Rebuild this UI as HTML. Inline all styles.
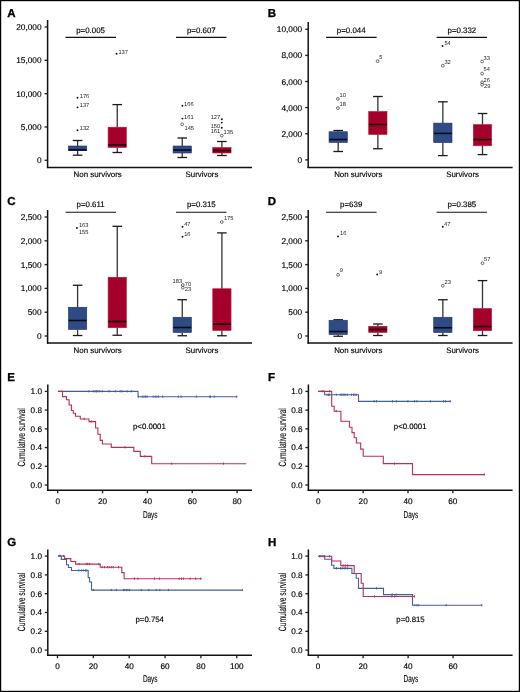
<!DOCTYPE html>
<html><head><meta charset="utf-8"><title>Figure</title>
<style>
html,body{margin:0;padding:0;background:#fff;}
body{width:520px;height:692px;overflow:hidden;}
svg{display:block;font-family:"Liberation Sans", sans-serif;will-change:transform;text-rendering:geometricPrecision;}
</style></head>
<body>
<svg width="520" height="692" viewBox="0 0 520 692">
<rect x="0" y="0" width="520" height="692" fill="#fff"/>
<rect x="0.6" y="0.6" width="518.8" height="690.8" fill="none" stroke="#000" stroke-width="1.2"/>
<text x="7.20" y="17.00" font-size="11.5" text-anchor="start" font-weight="bold" fill="#000" stroke="#000" stroke-width="0.3" >A</text>
<line x1="47.60" y1="20.00" x2="47.60" y2="168.10" stroke="#111" stroke-width="1.5"/>
<line x1="46.90" y1="167.40" x2="252.00" y2="167.40" stroke="#111" stroke-width="1.5"/>
<line x1="44.60" y1="27.00" x2="47.60" y2="27.00" stroke="#222" stroke-width="1.35"/>
<text x="41.60" y="30.00" font-size="8.3" text-anchor="end" font-weight="normal" fill="#000" stroke="#000" stroke-width="0.15" >20,000</text>
<line x1="44.60" y1="60.30" x2="47.60" y2="60.30" stroke="#222" stroke-width="1.35"/>
<text x="41.60" y="63.30" font-size="8.3" text-anchor="end" font-weight="normal" fill="#000" stroke="#000" stroke-width="0.15" >15,000</text>
<line x1="44.60" y1="93.70" x2="47.60" y2="93.70" stroke="#222" stroke-width="1.35"/>
<text x="41.60" y="96.70" font-size="8.3" text-anchor="end" font-weight="normal" fill="#000" stroke="#000" stroke-width="0.15" >10,000</text>
<line x1="44.60" y1="127.00" x2="47.60" y2="127.00" stroke="#222" stroke-width="1.35"/>
<text x="41.60" y="130.00" font-size="8.3" text-anchor="end" font-weight="normal" fill="#000" stroke="#000" stroke-width="0.15" >5,000</text>
<line x1="44.60" y1="160.30" x2="47.60" y2="160.30" stroke="#222" stroke-width="1.35"/>
<text x="41.60" y="163.30" font-size="8.3" text-anchor="end" font-weight="normal" fill="#000" stroke="#000" stroke-width="0.15" >0</text>
<line x1="65.50" y1="37.40" x2="116.00" y2="37.40" stroke="#111" stroke-width="1.1"/>
<text x="90.60" y="32.50" font-size="7.9" text-anchor="middle" font-weight="normal" fill="#000" stroke="#000" stroke-width="0.15" >p=0.005</text>
<line x1="176.00" y1="37.40" x2="226.50" y2="37.40" stroke="#111" stroke-width="1.1"/>
<text x="201.30" y="32.50" font-size="7.9" text-anchor="middle" font-weight="normal" fill="#000" stroke="#000" stroke-width="0.15" >p=0.607</text>
<text x="97.70" y="177.40" font-size="7.9" text-anchor="middle" font-weight="normal" fill="#000" stroke="#000" stroke-width="0.15" >Non survivors</text>
<text x="202.00" y="177.40" font-size="7.9" text-anchor="middle" font-weight="normal" fill="#000" stroke="#000" stroke-width="0.15" >Survivors</text>
<line x1="77.60" y1="140.50" x2="77.60" y2="146.00" stroke="#333" stroke-width="1.3"/>
<line x1="77.60" y1="150.70" x2="77.60" y2="155.20" stroke="#333" stroke-width="1.3"/>
<line x1="72.80" y1="140.50" x2="82.40" y2="140.50" stroke="#1a1a1a" stroke-width="1.3"/>
<line x1="72.80" y1="155.20" x2="82.40" y2="155.20" stroke="#1a1a1a" stroke-width="1.3"/>
<rect x="68.45" y="146.00" width="18.30" height="4.70" fill="#2f4b85" stroke="#1d3468" stroke-width="0.6"/>
<line x1="68.65" y1="149.90" x2="86.55" y2="149.90" stroke="#050a18" stroke-width="1.6"/>
<line x1="117.25" y1="104.60" x2="117.25" y2="127.20" stroke="#333" stroke-width="1.3"/>
<line x1="117.25" y1="147.50" x2="117.25" y2="152.50" stroke="#333" stroke-width="1.3"/>
<line x1="112.45" y1="104.60" x2="122.05" y2="104.60" stroke="#1a1a1a" stroke-width="1.3"/>
<line x1="112.45" y1="152.50" x2="122.05" y2="152.50" stroke="#1a1a1a" stroke-width="1.3"/>
<rect x="108.10" y="127.20" width="18.30" height="20.30" fill="#a3002c" stroke="#b8173c" stroke-width="0.6"/>
<line x1="108.30" y1="144.90" x2="126.20" y2="144.90" stroke="#1a0005" stroke-width="1.6"/>
<line x1="182.25" y1="138.00" x2="182.25" y2="146.00" stroke="#333" stroke-width="1.3"/>
<line x1="182.25" y1="153.00" x2="182.25" y2="157.50" stroke="#333" stroke-width="1.3"/>
<line x1="177.45" y1="138.00" x2="187.05" y2="138.00" stroke="#1a1a1a" stroke-width="1.3"/>
<line x1="177.45" y1="157.50" x2="187.05" y2="157.50" stroke="#1a1a1a" stroke-width="1.3"/>
<rect x="173.10" y="146.00" width="18.30" height="7.00" fill="#2f4b85" stroke="#1d3468" stroke-width="0.6"/>
<line x1="173.30" y1="150.00" x2="191.20" y2="150.00" stroke="#050a18" stroke-width="1.6"/>
<line x1="221.90" y1="141.50" x2="221.90" y2="147.50" stroke="#333" stroke-width="1.3"/>
<line x1="221.90" y1="153.00" x2="221.90" y2="155.50" stroke="#333" stroke-width="1.3"/>
<line x1="217.10" y1="141.50" x2="226.70" y2="141.50" stroke="#1a1a1a" stroke-width="1.3"/>
<line x1="217.10" y1="155.50" x2="226.70" y2="155.50" stroke="#1a1a1a" stroke-width="1.3"/>
<rect x="212.75" y="147.50" width="18.30" height="5.50" fill="#a3002c" stroke="#b8173c" stroke-width="0.6"/>
<line x1="212.95" y1="150.50" x2="230.85" y2="150.50" stroke="#1a0005" stroke-width="1.6"/>
<circle cx="77.50" cy="97.70" r="0.95" fill="#111"/>
<text x="79.80" y="97.70" font-size="5.7" text-anchor="start" font-weight="normal" fill="#1a1a1a" stroke="#1a1a1a" stroke-width="0.0" >176</text>
<circle cx="77.50" cy="107.40" r="0.95" fill="#111"/>
<text x="79.80" y="107.20" font-size="5.7" text-anchor="start" font-weight="normal" fill="#1a1a1a" stroke="#1a1a1a" stroke-width="0.0" >137</text>
<circle cx="77.50" cy="130.20" r="0.95" fill="#111"/>
<text x="79.80" y="129.80" font-size="5.7" text-anchor="start" font-weight="normal" fill="#1a1a1a" stroke="#1a1a1a" stroke-width="0.0" >132</text>
<circle cx="116.60" cy="53.80" r="0.95" fill="#111"/>
<text x="118.40" y="53.50" font-size="5.7" text-anchor="start" font-weight="normal" fill="#1a1a1a" stroke="#1a1a1a" stroke-width="0.0" >137</text>
<circle cx="182.40" cy="105.80" r="0.95" fill="#111"/>
<text x="184.10" y="105.80" font-size="5.7" text-anchor="start" font-weight="normal" fill="#1a1a1a" stroke="#1a1a1a" stroke-width="0.0" >166</text>
<circle cx="182.40" cy="118.60" r="0.95" fill="#111"/>
<text x="184.10" y="118.60" font-size="5.7" text-anchor="start" font-weight="normal" fill="#1a1a1a" stroke="#1a1a1a" stroke-width="0.0" >161</text>
<circle cx="182.20" cy="124.30" r="1.4" fill="none" stroke="#333" stroke-width="0.7"/>
<text x="184.50" y="129.70" font-size="5.7" text-anchor="start" font-weight="normal" fill="#1a1a1a" stroke="#1a1a1a" stroke-width="0.0" >145</text>
<circle cx="221.80" cy="119.20" r="0.95" fill="#111"/>
<text x="220.20" y="119.00" font-size="5.7" text-anchor="end" font-weight="normal" fill="#1a1a1a" stroke="#1a1a1a" stroke-width="0.0" >127</text>
<circle cx="221.80" cy="122.60" r="0.95" fill="#111"/>
<circle cx="221.80" cy="127.70" r="0.95" fill="#111"/>
<text x="220.20" y="128.00" font-size="5.7" text-anchor="end" font-weight="normal" fill="#1a1a1a" stroke="#1a1a1a" stroke-width="0.0" >150</text>
<text x="220.20" y="132.70" font-size="5.7" text-anchor="end" font-weight="normal" fill="#1a1a1a" stroke="#1a1a1a" stroke-width="0.0" >161</text>
<circle cx="221.80" cy="135.60" r="1.4" fill="none" stroke="#333" stroke-width="0.7"/>
<text x="223.60" y="134.00" font-size="5.7" text-anchor="start" font-weight="normal" fill="#1a1a1a" stroke="#1a1a1a" stroke-width="0.0" >135</text>
<text x="267.80" y="17.00" font-size="11.5" text-anchor="start" font-weight="bold" fill="#000" stroke="#000" stroke-width="0.3" >B</text>
<line x1="308.20" y1="22.00" x2="308.20" y2="168.10" stroke="#111" stroke-width="1.5"/>
<line x1="307.50" y1="167.40" x2="512.60" y2="167.40" stroke="#111" stroke-width="1.5"/>
<line x1="305.20" y1="29.25" x2="308.20" y2="29.25" stroke="#222" stroke-width="1.35"/>
<text x="302.20" y="32.25" font-size="8.3" text-anchor="end" font-weight="normal" fill="#000" stroke="#000" stroke-width="0.15" >10,000</text>
<line x1="305.20" y1="55.40" x2="308.20" y2="55.40" stroke="#222" stroke-width="1.35"/>
<text x="302.20" y="58.40" font-size="8.3" text-anchor="end" font-weight="normal" fill="#000" stroke="#000" stroke-width="0.15" >8,000</text>
<line x1="305.20" y1="81.50" x2="308.20" y2="81.50" stroke="#222" stroke-width="1.35"/>
<text x="302.20" y="84.50" font-size="8.3" text-anchor="end" font-weight="normal" fill="#000" stroke="#000" stroke-width="0.15" >6,000</text>
<line x1="305.20" y1="107.60" x2="308.20" y2="107.60" stroke="#222" stroke-width="1.35"/>
<text x="302.20" y="110.60" font-size="8.3" text-anchor="end" font-weight="normal" fill="#000" stroke="#000" stroke-width="0.15" >4,000</text>
<line x1="305.20" y1="133.75" x2="308.20" y2="133.75" stroke="#222" stroke-width="1.35"/>
<text x="302.20" y="136.75" font-size="8.3" text-anchor="end" font-weight="normal" fill="#000" stroke="#000" stroke-width="0.15" >2,000</text>
<line x1="305.20" y1="159.90" x2="308.20" y2="159.90" stroke="#222" stroke-width="1.35"/>
<text x="302.20" y="162.90" font-size="8.3" text-anchor="end" font-weight="normal" fill="#000" stroke="#000" stroke-width="0.15" >0</text>
<line x1="326.10" y1="37.40" x2="376.60" y2="37.40" stroke="#111" stroke-width="1.1"/>
<text x="351.20" y="32.50" font-size="7.9" text-anchor="middle" font-weight="normal" fill="#000" stroke="#000" stroke-width="0.15" >p=0.044</text>
<line x1="436.60" y1="37.40" x2="487.10" y2="37.40" stroke="#111" stroke-width="1.1"/>
<text x="461.90" y="32.50" font-size="7.9" text-anchor="middle" font-weight="normal" fill="#000" stroke="#000" stroke-width="0.15" >p=0.332</text>
<text x="358.30" y="177.40" font-size="7.9" text-anchor="middle" font-weight="normal" fill="#000" stroke="#000" stroke-width="0.15" >Non survivors</text>
<text x="462.60" y="177.40" font-size="7.9" text-anchor="middle" font-weight="normal" fill="#000" stroke="#000" stroke-width="0.15" >Survivors</text>
<line x1="338.20" y1="130.50" x2="338.20" y2="131.75" stroke="#333" stroke-width="1.3"/>
<line x1="338.20" y1="142.50" x2="338.20" y2="151.50" stroke="#333" stroke-width="1.3"/>
<line x1="333.40" y1="130.50" x2="343.00" y2="130.50" stroke="#1a1a1a" stroke-width="1.3"/>
<line x1="333.40" y1="151.50" x2="343.00" y2="151.50" stroke="#1a1a1a" stroke-width="1.3"/>
<rect x="329.05" y="131.75" width="18.30" height="10.75" fill="#2f4b85" stroke="#1d3468" stroke-width="0.6"/>
<line x1="329.25" y1="139.50" x2="347.15" y2="139.50" stroke="#050a18" stroke-width="1.6"/>
<line x1="377.85" y1="96.50" x2="377.85" y2="111.50" stroke="#333" stroke-width="1.3"/>
<line x1="377.85" y1="134.50" x2="377.85" y2="148.75" stroke="#333" stroke-width="1.3"/>
<line x1="373.05" y1="96.50" x2="382.65" y2="96.50" stroke="#1a1a1a" stroke-width="1.3"/>
<line x1="373.05" y1="148.75" x2="382.65" y2="148.75" stroke="#1a1a1a" stroke-width="1.3"/>
<rect x="368.70" y="111.50" width="18.30" height="23.00" fill="#a3002c" stroke="#b8173c" stroke-width="0.6"/>
<line x1="368.90" y1="124.50" x2="386.80" y2="124.50" stroke="#1a0005" stroke-width="1.6"/>
<line x1="442.85" y1="101.80" x2="442.85" y2="123.10" stroke="#333" stroke-width="1.3"/>
<line x1="442.85" y1="142.60" x2="442.85" y2="155.60" stroke="#333" stroke-width="1.3"/>
<line x1="438.05" y1="101.80" x2="447.65" y2="101.80" stroke="#1a1a1a" stroke-width="1.3"/>
<line x1="438.05" y1="155.60" x2="447.65" y2="155.60" stroke="#1a1a1a" stroke-width="1.3"/>
<rect x="433.70" y="123.10" width="18.30" height="19.50" fill="#2f4b85" stroke="#1d3468" stroke-width="0.6"/>
<line x1="433.90" y1="133.40" x2="451.80" y2="133.40" stroke="#050a18" stroke-width="1.6"/>
<line x1="482.50" y1="113.50" x2="482.50" y2="124.60" stroke="#333" stroke-width="1.3"/>
<line x1="482.50" y1="145.80" x2="482.50" y2="154.60" stroke="#333" stroke-width="1.3"/>
<line x1="477.70" y1="113.50" x2="487.30" y2="113.50" stroke="#1a1a1a" stroke-width="1.3"/>
<line x1="477.70" y1="154.60" x2="487.30" y2="154.60" stroke="#1a1a1a" stroke-width="1.3"/>
<rect x="473.35" y="124.60" width="18.30" height="21.20" fill="#a3002c" stroke="#b8173c" stroke-width="0.6"/>
<line x1="473.55" y1="139.60" x2="491.45" y2="139.60" stroke="#1a0005" stroke-width="1.6"/>
<circle cx="377.60" cy="61.20" r="1.4" fill="none" stroke="#333" stroke-width="0.7"/>
<text x="379.20" y="59.00" font-size="5.7" text-anchor="start" font-weight="normal" fill="#1a1a1a" stroke="#1a1a1a" stroke-width="0.0" >5</text>
<circle cx="337.90" cy="98.90" r="1.4" fill="none" stroke="#333" stroke-width="0.7"/>
<text x="339.50" y="96.90" font-size="5.7" text-anchor="start" font-weight="normal" fill="#1a1a1a" stroke="#1a1a1a" stroke-width="0.0" >10</text>
<circle cx="337.90" cy="108.10" r="1.4" fill="none" stroke="#333" stroke-width="0.7"/>
<text x="339.50" y="106.10" font-size="5.7" text-anchor="start" font-weight="normal" fill="#1a1a1a" stroke="#1a1a1a" stroke-width="0.0" >18</text>
<circle cx="442.50" cy="46.00" r="0.95" fill="#111"/>
<text x="444.40" y="44.80" font-size="5.7" text-anchor="start" font-weight="normal" fill="#1a1a1a" stroke="#1a1a1a" stroke-width="0.0" >54</text>
<circle cx="442.80" cy="65.70" r="1.4" fill="none" stroke="#333" stroke-width="0.7"/>
<text x="444.40" y="63.70" font-size="5.7" text-anchor="start" font-weight="normal" fill="#1a1a1a" stroke="#1a1a1a" stroke-width="0.0" >32</text>
<circle cx="482.10" cy="61.50" r="1.4" fill="none" stroke="#333" stroke-width="0.7"/>
<text x="483.60" y="59.50" font-size="5.7" text-anchor="start" font-weight="normal" fill="#1a1a1a" stroke="#1a1a1a" stroke-width="0.0" >33</text>
<circle cx="482.10" cy="73.60" r="1.4" fill="none" stroke="#333" stroke-width="0.7"/>
<text x="483.60" y="71.30" font-size="5.7" text-anchor="start" font-weight="normal" fill="#1a1a1a" stroke="#1a1a1a" stroke-width="0.0" >54</text>
<circle cx="482.10" cy="82.30" r="1.4" fill="none" stroke="#333" stroke-width="0.7"/>
<text x="483.60" y="81.80" font-size="5.7" text-anchor="start" font-weight="normal" fill="#1a1a1a" stroke="#1a1a1a" stroke-width="0.0" >26</text>
<circle cx="482.10" cy="84.60" r="1.4" fill="none" stroke="#333" stroke-width="0.7"/>
<text x="484.00" y="87.50" font-size="5.7" text-anchor="start" font-weight="normal" fill="#1a1a1a" stroke="#1a1a1a" stroke-width="0.0" >29</text>
<text x="7.20" y="205.00" font-size="11.5" text-anchor="start" font-weight="bold" fill="#000" stroke="#000" stroke-width="0.3" >C</text>
<line x1="47.60" y1="210.00" x2="47.60" y2="343.70" stroke="#111" stroke-width="1.5"/>
<line x1="46.90" y1="343.00" x2="252.00" y2="343.00" stroke="#111" stroke-width="1.5"/>
<line x1="44.60" y1="217.00" x2="47.60" y2="217.00" stroke="#222" stroke-width="1.35"/>
<text x="41.60" y="220.00" font-size="8.3" text-anchor="end" font-weight="normal" fill="#000" stroke="#000" stroke-width="0.15" >2,500</text>
<line x1="44.60" y1="240.80" x2="47.60" y2="240.80" stroke="#222" stroke-width="1.35"/>
<text x="41.60" y="243.80" font-size="8.3" text-anchor="end" font-weight="normal" fill="#000" stroke="#000" stroke-width="0.15" >2,000</text>
<line x1="44.60" y1="264.60" x2="47.60" y2="264.60" stroke="#222" stroke-width="1.35"/>
<text x="41.60" y="267.60" font-size="8.3" text-anchor="end" font-weight="normal" fill="#000" stroke="#000" stroke-width="0.15" >1,500</text>
<line x1="44.60" y1="288.40" x2="47.60" y2="288.40" stroke="#222" stroke-width="1.35"/>
<text x="41.60" y="291.40" font-size="8.3" text-anchor="end" font-weight="normal" fill="#000" stroke="#000" stroke-width="0.15" >1,000</text>
<line x1="44.60" y1="312.20" x2="47.60" y2="312.20" stroke="#222" stroke-width="1.35"/>
<text x="41.60" y="315.20" font-size="8.3" text-anchor="end" font-weight="normal" fill="#000" stroke="#000" stroke-width="0.15" >500</text>
<line x1="44.60" y1="336.00" x2="47.60" y2="336.00" stroke="#222" stroke-width="1.35"/>
<text x="41.60" y="339.00" font-size="8.3" text-anchor="end" font-weight="normal" fill="#000" stroke="#000" stroke-width="0.15" >0</text>
<line x1="65.50" y1="212.20" x2="116.00" y2="212.20" stroke="#111" stroke-width="1.1"/>
<text x="90.60" y="206.80" font-size="7.9" text-anchor="middle" font-weight="normal" fill="#000" stroke="#000" stroke-width="0.15" >p=0.611</text>
<line x1="176.00" y1="212.20" x2="226.50" y2="212.20" stroke="#111" stroke-width="1.1"/>
<text x="201.30" y="206.80" font-size="7.9" text-anchor="middle" font-weight="normal" fill="#000" stroke="#000" stroke-width="0.15" >p=0.315</text>
<text x="97.70" y="353.30" font-size="7.9" text-anchor="middle" font-weight="normal" fill="#000" stroke="#000" stroke-width="0.15" >Non survivors</text>
<text x="202.00" y="353.30" font-size="7.9" text-anchor="middle" font-weight="normal" fill="#000" stroke="#000" stroke-width="0.15" >Survivors</text>
<line x1="77.60" y1="285.25" x2="77.60" y2="307.25" stroke="#333" stroke-width="1.3"/>
<line x1="77.60" y1="329.50" x2="77.60" y2="335.50" stroke="#333" stroke-width="1.3"/>
<line x1="72.80" y1="285.25" x2="82.40" y2="285.25" stroke="#1a1a1a" stroke-width="1.3"/>
<line x1="72.80" y1="335.50" x2="82.40" y2="335.50" stroke="#1a1a1a" stroke-width="1.3"/>
<rect x="68.45" y="307.25" width="18.30" height="22.25" fill="#2f4b85" stroke="#1d3468" stroke-width="0.6"/>
<line x1="68.65" y1="320.50" x2="86.55" y2="320.50" stroke="#050a18" stroke-width="1.6"/>
<line x1="117.25" y1="226.30" x2="117.25" y2="277.25" stroke="#333" stroke-width="1.3"/>
<line x1="117.25" y1="327.75" x2="117.25" y2="335.25" stroke="#333" stroke-width="1.3"/>
<line x1="112.45" y1="226.30" x2="122.05" y2="226.30" stroke="#1a1a1a" stroke-width="1.3"/>
<line x1="112.45" y1="335.25" x2="122.05" y2="335.25" stroke="#1a1a1a" stroke-width="1.3"/>
<rect x="108.10" y="277.25" width="18.30" height="50.50" fill="#a3002c" stroke="#b8173c" stroke-width="0.6"/>
<line x1="108.30" y1="321.50" x2="126.20" y2="321.50" stroke="#1a0005" stroke-width="1.6"/>
<line x1="182.25" y1="299.75" x2="182.25" y2="317.25" stroke="#333" stroke-width="1.3"/>
<line x1="182.25" y1="332.50" x2="182.25" y2="335.75" stroke="#333" stroke-width="1.3"/>
<line x1="177.45" y1="299.75" x2="187.05" y2="299.75" stroke="#1a1a1a" stroke-width="1.3"/>
<line x1="177.45" y1="335.75" x2="187.05" y2="335.75" stroke="#1a1a1a" stroke-width="1.3"/>
<rect x="173.10" y="317.25" width="18.30" height="15.25" fill="#2f4b85" stroke="#1d3468" stroke-width="0.6"/>
<line x1="173.30" y1="327.50" x2="191.20" y2="327.50" stroke="#050a18" stroke-width="1.6"/>
<line x1="221.90" y1="232.90" x2="221.90" y2="288.75" stroke="#333" stroke-width="1.3"/>
<line x1="221.90" y1="330.50" x2="221.90" y2="335.75" stroke="#333" stroke-width="1.3"/>
<line x1="217.10" y1="232.90" x2="226.70" y2="232.90" stroke="#1a1a1a" stroke-width="1.3"/>
<line x1="217.10" y1="335.75" x2="226.70" y2="335.75" stroke="#1a1a1a" stroke-width="1.3"/>
<rect x="212.75" y="288.75" width="18.30" height="41.75" fill="#a3002c" stroke="#b8173c" stroke-width="0.6"/>
<line x1="212.95" y1="324.25" x2="230.85" y2="324.25" stroke="#1a0005" stroke-width="1.6"/>
<circle cx="76.90" cy="228.00" r="0.95" fill="#111"/>
<text x="78.90" y="226.80" font-size="5.7" text-anchor="start" font-weight="normal" fill="#1a1a1a" stroke="#1a1a1a" stroke-width="0.0" >163</text>
<text x="78.90" y="234.00" font-size="5.7" text-anchor="start" font-weight="normal" fill="#1a1a1a" stroke="#1a1a1a" stroke-width="0.0" >155</text>
<circle cx="182.50" cy="226.70" r="0.95" fill="#111"/>
<text x="184.20" y="225.80" font-size="5.7" text-anchor="start" font-weight="normal" fill="#1a1a1a" stroke="#1a1a1a" stroke-width="0.0" >47</text>
<circle cx="182.50" cy="236.80" r="0.95" fill="#111"/>
<text x="184.20" y="235.60" font-size="5.7" text-anchor="start" font-weight="normal" fill="#1a1a1a" stroke="#1a1a1a" stroke-width="0.0" >16</text>
<circle cx="221.80" cy="222.00" r="1.4" fill="none" stroke="#333" stroke-width="0.7"/>
<text x="223.90" y="219.70" font-size="5.7" text-anchor="start" font-weight="normal" fill="#1a1a1a" stroke="#1a1a1a" stroke-width="0.0" >175</text>
<circle cx="182.80" cy="285.00" r="1.4" fill="none" stroke="#333" stroke-width="0.7"/>
<text x="182.10" y="282.70" font-size="5.7" text-anchor="end" font-weight="normal" fill="#1a1a1a" stroke="#1a1a1a" stroke-width="0.0" >183</text>
<text x="184.80" y="285.70" font-size="5.7" text-anchor="start" font-weight="normal" fill="#1a1a1a" stroke="#1a1a1a" stroke-width="0.0" >70</text>
<circle cx="182.80" cy="287.70" r="1.4" fill="none" stroke="#333" stroke-width="0.7"/>
<text x="184.80" y="291.40" font-size="5.7" text-anchor="start" font-weight="normal" fill="#1a1a1a" stroke="#1a1a1a" stroke-width="0.0" >23</text>
<text x="267.80" y="205.00" font-size="11.5" text-anchor="start" font-weight="bold" fill="#000" stroke="#000" stroke-width="0.3" >D</text>
<line x1="308.20" y1="210.00" x2="308.20" y2="343.70" stroke="#111" stroke-width="1.5"/>
<line x1="307.50" y1="343.00" x2="512.60" y2="343.00" stroke="#111" stroke-width="1.5"/>
<line x1="305.20" y1="217.00" x2="308.20" y2="217.00" stroke="#222" stroke-width="1.35"/>
<text x="302.20" y="220.00" font-size="8.3" text-anchor="end" font-weight="normal" fill="#000" stroke="#000" stroke-width="0.15" >2,500</text>
<line x1="305.20" y1="240.80" x2="308.20" y2="240.80" stroke="#222" stroke-width="1.35"/>
<text x="302.20" y="243.80" font-size="8.3" text-anchor="end" font-weight="normal" fill="#000" stroke="#000" stroke-width="0.15" >2,000</text>
<line x1="305.20" y1="264.60" x2="308.20" y2="264.60" stroke="#222" stroke-width="1.35"/>
<text x="302.20" y="267.60" font-size="8.3" text-anchor="end" font-weight="normal" fill="#000" stroke="#000" stroke-width="0.15" >1,500</text>
<line x1="305.20" y1="288.40" x2="308.20" y2="288.40" stroke="#222" stroke-width="1.35"/>
<text x="302.20" y="291.40" font-size="8.3" text-anchor="end" font-weight="normal" fill="#000" stroke="#000" stroke-width="0.15" >1,000</text>
<line x1="305.20" y1="312.20" x2="308.20" y2="312.20" stroke="#222" stroke-width="1.35"/>
<text x="302.20" y="315.20" font-size="8.3" text-anchor="end" font-weight="normal" fill="#000" stroke="#000" stroke-width="0.15" >500</text>
<line x1="305.20" y1="336.00" x2="308.20" y2="336.00" stroke="#222" stroke-width="1.35"/>
<text x="302.20" y="339.00" font-size="8.3" text-anchor="end" font-weight="normal" fill="#000" stroke="#000" stroke-width="0.15" >0</text>
<line x1="326.10" y1="212.20" x2="376.60" y2="212.20" stroke="#111" stroke-width="1.1"/>
<text x="351.20" y="206.80" font-size="7.9" text-anchor="middle" font-weight="normal" fill="#000" stroke="#000" stroke-width="0.15" >p=639</text>
<line x1="436.60" y1="212.20" x2="487.10" y2="212.20" stroke="#111" stroke-width="1.1"/>
<text x="461.90" y="206.80" font-size="7.9" text-anchor="middle" font-weight="normal" fill="#000" stroke="#000" stroke-width="0.15" >p=0.385</text>
<text x="358.30" y="353.30" font-size="7.9" text-anchor="middle" font-weight="normal" fill="#000" stroke="#000" stroke-width="0.15" >Non survivors</text>
<text x="462.60" y="353.30" font-size="7.9" text-anchor="middle" font-weight="normal" fill="#000" stroke="#000" stroke-width="0.15" >Survivors</text>
<line x1="338.20" y1="319.75" x2="338.20" y2="320.25" stroke="#333" stroke-width="1.3"/>
<line x1="338.20" y1="334.50" x2="338.20" y2="336.25" stroke="#333" stroke-width="1.3"/>
<line x1="333.40" y1="319.75" x2="343.00" y2="319.75" stroke="#1a1a1a" stroke-width="1.3"/>
<line x1="333.40" y1="336.25" x2="343.00" y2="336.25" stroke="#1a1a1a" stroke-width="1.3"/>
<rect x="329.05" y="320.25" width="18.30" height="14.25" fill="#2f4b85" stroke="#1d3468" stroke-width="0.6"/>
<line x1="329.25" y1="331.50" x2="347.15" y2="331.50" stroke="#050a18" stroke-width="1.6"/>
<line x1="377.85" y1="324.00" x2="377.85" y2="326.25" stroke="#333" stroke-width="1.3"/>
<line x1="377.85" y1="332.50" x2="377.85" y2="335.50" stroke="#333" stroke-width="1.3"/>
<line x1="373.05" y1="324.00" x2="382.65" y2="324.00" stroke="#1a1a1a" stroke-width="1.3"/>
<line x1="373.05" y1="335.50" x2="382.65" y2="335.50" stroke="#1a1a1a" stroke-width="1.3"/>
<rect x="368.70" y="326.25" width="18.30" height="6.25" fill="#a3002c" stroke="#b8173c" stroke-width="0.6"/>
<line x1="368.90" y1="329.50" x2="386.80" y2="329.50" stroke="#1a0005" stroke-width="1.6"/>
<line x1="442.85" y1="299.75" x2="442.85" y2="317.25" stroke="#333" stroke-width="1.3"/>
<line x1="442.85" y1="332.50" x2="442.85" y2="335.50" stroke="#333" stroke-width="1.3"/>
<line x1="438.05" y1="299.75" x2="447.65" y2="299.75" stroke="#1a1a1a" stroke-width="1.3"/>
<line x1="438.05" y1="335.50" x2="447.65" y2="335.50" stroke="#1a1a1a" stroke-width="1.3"/>
<rect x="433.70" y="317.25" width="18.30" height="15.25" fill="#2f4b85" stroke="#1d3468" stroke-width="0.6"/>
<line x1="433.90" y1="327.75" x2="451.80" y2="327.75" stroke="#050a18" stroke-width="1.6"/>
<line x1="482.50" y1="280.60" x2="482.50" y2="308.50" stroke="#333" stroke-width="1.3"/>
<line x1="482.50" y1="330.75" x2="482.50" y2="335.50" stroke="#333" stroke-width="1.3"/>
<line x1="477.70" y1="280.60" x2="487.30" y2="280.60" stroke="#1a1a1a" stroke-width="1.3"/>
<line x1="477.70" y1="335.50" x2="487.30" y2="335.50" stroke="#1a1a1a" stroke-width="1.3"/>
<rect x="473.35" y="308.50" width="18.30" height="22.25" fill="#a3002c" stroke="#b8173c" stroke-width="0.6"/>
<line x1="473.55" y1="326.50" x2="491.45" y2="326.50" stroke="#1a0005" stroke-width="1.6"/>
<circle cx="338.10" cy="236.40" r="0.95" fill="#111"/>
<text x="340.10" y="235.10" font-size="5.7" text-anchor="start" font-weight="normal" fill="#1a1a1a" stroke="#1a1a1a" stroke-width="0.0" >16</text>
<circle cx="338.10" cy="274.80" r="1.4" fill="none" stroke="#333" stroke-width="0.7"/>
<text x="339.80" y="272.40" font-size="5.7" text-anchor="start" font-weight="normal" fill="#1a1a1a" stroke="#1a1a1a" stroke-width="0.0" >9</text>
<circle cx="377.20" cy="274.50" r="0.95" fill="#111"/>
<text x="379.10" y="274.10" font-size="5.7" text-anchor="start" font-weight="normal" fill="#1a1a1a" stroke="#1a1a1a" stroke-width="0.0" >9</text>
<circle cx="442.80" cy="226.80" r="0.95" fill="#111"/>
<text x="444.10" y="225.80" font-size="5.7" text-anchor="start" font-weight="normal" fill="#1a1a1a" stroke="#1a1a1a" stroke-width="0.0" >47</text>
<circle cx="442.80" cy="285.70" r="1.4" fill="none" stroke="#333" stroke-width="0.7"/>
<text x="444.50" y="283.60" font-size="5.7" text-anchor="start" font-weight="normal" fill="#1a1a1a" stroke="#1a1a1a" stroke-width="0.0" >23</text>
<circle cx="482.50" cy="263.20" r="1.4" fill="none" stroke="#333" stroke-width="0.7"/>
<text x="484.10" y="261.20" font-size="5.7" text-anchor="start" font-weight="normal" fill="#1a1a1a" stroke="#1a1a1a" stroke-width="0.0" >57</text>
<text x="7.30" y="380.90" font-size="11.5" text-anchor="start" font-weight="bold" fill="#000" stroke="#000" stroke-width="0.3" >E</text>
<line x1="47.80" y1="384.50" x2="47.80" y2="491.00" stroke="#111" stroke-width="1.5"/>
<line x1="47.10" y1="490.30" x2="252.00" y2="490.30" stroke="#111" stroke-width="1.5"/>
<line x1="44.80" y1="391.40" x2="47.80" y2="391.40" stroke="#222" stroke-width="1.35"/>
<text x="42.00" y="394.30" font-size="8.2" text-anchor="end" font-weight="normal" fill="#000" stroke="#000" stroke-width="0.15" >1.0</text>
<line x1="44.80" y1="410.12" x2="47.80" y2="410.12" stroke="#222" stroke-width="1.35"/>
<text x="42.00" y="413.02" font-size="8.2" text-anchor="end" font-weight="normal" fill="#000" stroke="#000" stroke-width="0.15" >0.8</text>
<line x1="44.80" y1="428.84" x2="47.80" y2="428.84" stroke="#222" stroke-width="1.35"/>
<text x="42.00" y="431.74" font-size="8.2" text-anchor="end" font-weight="normal" fill="#000" stroke="#000" stroke-width="0.15" >0.6</text>
<line x1="44.80" y1="447.56" x2="47.80" y2="447.56" stroke="#222" stroke-width="1.35"/>
<text x="42.00" y="450.46" font-size="8.2" text-anchor="end" font-weight="normal" fill="#000" stroke="#000" stroke-width="0.15" >0.4</text>
<line x1="44.80" y1="466.28" x2="47.80" y2="466.28" stroke="#222" stroke-width="1.35"/>
<text x="42.00" y="469.18" font-size="8.2" text-anchor="end" font-weight="normal" fill="#000" stroke="#000" stroke-width="0.15" >0.2</text>
<line x1="44.80" y1="485.00" x2="47.80" y2="485.00" stroke="#222" stroke-width="1.35"/>
<text x="42.00" y="487.90" font-size="8.2" text-anchor="end" font-weight="normal" fill="#000" stroke="#000" stroke-width="0.15" >0.0</text>
<line x1="57.70" y1="490.30" x2="57.70" y2="493.30" stroke="#222" stroke-width="1.35"/>
<text x="57.70" y="503.80" font-size="8.2" text-anchor="middle" font-weight="normal" fill="#000" stroke="#000" stroke-width="0.15" >0</text>
<line x1="102.55" y1="490.30" x2="102.55" y2="493.30" stroke="#222" stroke-width="1.35"/>
<text x="102.55" y="503.80" font-size="8.2" text-anchor="middle" font-weight="normal" fill="#000" stroke="#000" stroke-width="0.15" >20</text>
<line x1="147.40" y1="490.30" x2="147.40" y2="493.30" stroke="#222" stroke-width="1.35"/>
<text x="147.40" y="503.80" font-size="8.2" text-anchor="middle" font-weight="normal" fill="#000" stroke="#000" stroke-width="0.15" >40</text>
<line x1="192.25" y1="490.30" x2="192.25" y2="493.30" stroke="#222" stroke-width="1.35"/>
<text x="192.25" y="503.80" font-size="8.2" text-anchor="middle" font-weight="normal" fill="#000" stroke="#000" stroke-width="0.15" >60</text>
<line x1="237.10" y1="490.30" x2="237.10" y2="493.30" stroke="#222" stroke-width="1.35"/>
<text x="237.10" y="503.80" font-size="8.2" text-anchor="middle" font-weight="normal" fill="#000" stroke="#000" stroke-width="0.15" >80</text>
<text transform="translate(150.20,517.50) scale(0.064,0.1)" font-size="100" text-anchor="middle" fill="#000" stroke="#000" stroke-width="1.2">Days</text>
<text transform="translate(25.00,437.40) rotate(-90) scale(0.0672,0.105)" font-size="100" text-anchor="middle" fill="#000" stroke="#000" stroke-width="1.0">Cumulative survival</text>
<text x="133.00" y="428.80" font-size="7.8" text-anchor="start" font-weight="normal" fill="#000" stroke="#000" stroke-width="0.15" >p&lt;0.0001</text>
<path d="M57.90,391.30 L138.00,391.30 L138.00,396.60 L237.20,396.60" fill="none" stroke="#41609a" stroke-width="1.1" transform="translate(0,0.1)"/>
<rect x="88.50" y="390.20" width="1.0" height="2.2" fill="#41609a"/>
<rect x="92.80" y="390.20" width="1.0" height="2.2" fill="#41609a"/>
<rect x="94.70" y="390.20" width="1.0" height="2.2" fill="#41609a"/>
<rect x="96.00" y="390.20" width="1.0" height="2.2" fill="#41609a"/>
<rect x="97.40" y="390.20" width="1.0" height="2.2" fill="#41609a"/>
<rect x="99.30" y="390.20" width="1.0" height="2.2" fill="#41609a"/>
<rect x="101.80" y="390.20" width="1.0" height="2.2" fill="#41609a"/>
<rect x="108.70" y="390.20" width="1.0" height="2.2" fill="#41609a"/>
<rect x="115.10" y="390.20" width="1.0" height="2.2" fill="#41609a"/>
<rect x="119.70" y="390.20" width="1.0" height="2.2" fill="#41609a"/>
<rect x="121.60" y="390.20" width="1.0" height="2.2" fill="#41609a"/>
<rect x="126.60" y="390.20" width="1.0" height="2.2" fill="#41609a"/>
<rect x="130.90" y="390.20" width="1.0" height="2.2" fill="#41609a"/>
<rect x="138.00" y="395.50" width="1.0" height="2.2" fill="#41609a"/>
<rect x="141.70" y="395.50" width="1.0" height="2.2" fill="#41609a"/>
<rect x="143.50" y="395.50" width="1.0" height="2.2" fill="#41609a"/>
<rect x="145.10" y="395.50" width="1.0" height="2.2" fill="#41609a"/>
<rect x="146.60" y="395.50" width="1.0" height="2.2" fill="#41609a"/>
<rect x="152.70" y="395.50" width="1.0" height="2.2" fill="#41609a"/>
<rect x="154.70" y="395.50" width="1.0" height="2.2" fill="#41609a"/>
<rect x="156.40" y="395.50" width="1.0" height="2.2" fill="#41609a"/>
<rect x="158.10" y="395.50" width="1.0" height="2.2" fill="#41609a"/>
<rect x="162.20" y="395.50" width="1.0" height="2.2" fill="#41609a"/>
<rect x="177.80" y="395.50" width="1.0" height="2.2" fill="#41609a"/>
<rect x="180.60" y="395.50" width="1.0" height="2.2" fill="#41609a"/>
<rect x="195.80" y="395.50" width="1.0" height="2.2" fill="#41609a"/>
<rect x="209.10" y="395.50" width="1.0" height="2.2" fill="#41609a"/>
<rect x="210.00" y="395.50" width="1.0" height="2.2" fill="#41609a"/>
<rect x="213.70" y="395.50" width="1.0" height="2.2" fill="#41609a"/>
<rect x="236.20" y="395.50" width="1.0" height="2.2" fill="#41609a"/>
<path d="M57.90,391.30 L62.50,391.30 L62.50,396.50 L66.50,396.50 L66.50,399.60 L69.10,399.60 L69.10,404.90 L71.40,404.90 L71.40,410.40 L73.30,410.40 L73.30,413.20 L75.50,413.20 L75.50,416.10 L80.30,416.10 L80.30,418.90 L89.00,418.90 L89.00,421.50 L95.60,421.50 L95.60,427.90 L97.90,427.90 L97.90,434.20 L100.20,434.20 L100.20,440.30 L102.40,440.30 L102.40,443.90 L111.30,443.90 L111.30,447.30 L133.80,447.30 L133.80,451.30 L140.30,451.30 L140.30,456.30 L151.70,456.30 L151.70,463.60 L246.30,463.60" fill="none" stroke="#b92f55" stroke-width="1.1" transform="translate(0,0.1)"/>
<rect x="83.60" y="417.80" width="1.0" height="2.2" fill="#b92f55"/>
<rect x="90.80" y="420.40" width="1.0" height="2.2" fill="#b92f55"/>
<rect x="124.30" y="446.20" width="1.0" height="2.2" fill="#b92f55"/>
<rect x="144.50" y="455.20" width="1.0" height="2.2" fill="#b92f55"/>
<rect x="171.20" y="462.50" width="1.0" height="2.2" fill="#b92f55"/>
<rect x="223.00" y="462.50" width="1.0" height="2.2" fill="#b92f55"/>
<text x="267.90" y="380.90" font-size="11.5" text-anchor="start" font-weight="bold" fill="#000" stroke="#000" stroke-width="0.3" >F</text>
<line x1="308.40" y1="384.50" x2="308.40" y2="491.00" stroke="#111" stroke-width="1.5"/>
<line x1="307.70" y1="490.30" x2="512.60" y2="490.30" stroke="#111" stroke-width="1.5"/>
<line x1="305.40" y1="391.40" x2="308.40" y2="391.40" stroke="#222" stroke-width="1.35"/>
<text x="302.60" y="394.30" font-size="8.2" text-anchor="end" font-weight="normal" fill="#000" stroke="#000" stroke-width="0.15" >1.0</text>
<line x1="305.40" y1="410.12" x2="308.40" y2="410.12" stroke="#222" stroke-width="1.35"/>
<text x="302.60" y="413.02" font-size="8.2" text-anchor="end" font-weight="normal" fill="#000" stroke="#000" stroke-width="0.15" >0.8</text>
<line x1="305.40" y1="428.84" x2="308.40" y2="428.84" stroke="#222" stroke-width="1.35"/>
<text x="302.60" y="431.74" font-size="8.2" text-anchor="end" font-weight="normal" fill="#000" stroke="#000" stroke-width="0.15" >0.6</text>
<line x1="305.40" y1="447.56" x2="308.40" y2="447.56" stroke="#222" stroke-width="1.35"/>
<text x="302.60" y="450.46" font-size="8.2" text-anchor="end" font-weight="normal" fill="#000" stroke="#000" stroke-width="0.15" >0.4</text>
<line x1="305.40" y1="466.28" x2="308.40" y2="466.28" stroke="#222" stroke-width="1.35"/>
<text x="302.60" y="469.18" font-size="8.2" text-anchor="end" font-weight="normal" fill="#000" stroke="#000" stroke-width="0.15" >0.2</text>
<line x1="305.40" y1="485.00" x2="308.40" y2="485.00" stroke="#222" stroke-width="1.35"/>
<text x="302.60" y="487.90" font-size="8.2" text-anchor="end" font-weight="normal" fill="#000" stroke="#000" stroke-width="0.15" >0.0</text>
<line x1="318.30" y1="490.30" x2="318.30" y2="493.30" stroke="#222" stroke-width="1.35"/>
<text x="318.30" y="503.80" font-size="8.2" text-anchor="middle" font-weight="normal" fill="#000" stroke="#000" stroke-width="0.15" >0</text>
<line x1="363.15" y1="490.30" x2="363.15" y2="493.30" stroke="#222" stroke-width="1.35"/>
<text x="363.15" y="503.80" font-size="8.2" text-anchor="middle" font-weight="normal" fill="#000" stroke="#000" stroke-width="0.15" >20</text>
<line x1="408.00" y1="490.30" x2="408.00" y2="493.30" stroke="#222" stroke-width="1.35"/>
<text x="408.00" y="503.80" font-size="8.2" text-anchor="middle" font-weight="normal" fill="#000" stroke="#000" stroke-width="0.15" >40</text>
<line x1="452.85" y1="490.30" x2="452.85" y2="493.30" stroke="#222" stroke-width="1.35"/>
<text x="452.85" y="503.80" font-size="8.2" text-anchor="middle" font-weight="normal" fill="#000" stroke="#000" stroke-width="0.15" >60</text>
<text transform="translate(410.80,517.50) scale(0.064,0.1)" font-size="100" text-anchor="middle" fill="#000" stroke="#000" stroke-width="1.2">Days</text>
<text transform="translate(285.60,437.40) rotate(-90) scale(0.0672,0.105)" font-size="100" text-anchor="middle" fill="#000" stroke="#000" stroke-width="1.0">Cumulative survival</text>
<text x="393.80" y="428.80" font-size="7.8" text-anchor="start" font-weight="normal" fill="#000" stroke="#000" stroke-width="0.15" >p&lt;0.0001</text>
<path d="M318.30,391.30 L324.60,391.30 L324.60,394.70 L358.50,394.70 L358.50,401.30 L450.60,401.30" fill="none" stroke="#41609a" stroke-width="1.1" transform="translate(0,0.1)"/>
<rect x="322.20" y="390.20" width="1.0" height="2.2" fill="#41609a"/>
<rect x="326.50" y="393.60" width="1.0" height="2.2" fill="#41609a"/>
<rect x="328.00" y="393.60" width="1.0" height="2.2" fill="#41609a"/>
<rect x="329.10" y="393.60" width="1.0" height="2.2" fill="#41609a"/>
<rect x="335.80" y="393.60" width="1.0" height="2.2" fill="#41609a"/>
<rect x="339.70" y="393.60" width="1.0" height="2.2" fill="#41609a"/>
<rect x="341.20" y="393.60" width="1.0" height="2.2" fill="#41609a"/>
<rect x="342.60" y="393.60" width="1.0" height="2.2" fill="#41609a"/>
<rect x="343.80" y="393.60" width="1.0" height="2.2" fill="#41609a"/>
<rect x="345.30" y="393.60" width="1.0" height="2.2" fill="#41609a"/>
<rect x="347.20" y="393.60" width="1.0" height="2.2" fill="#41609a"/>
<rect x="351.00" y="393.60" width="1.0" height="2.2" fill="#41609a"/>
<rect x="353.00" y="393.60" width="1.0" height="2.2" fill="#41609a"/>
<rect x="354.40" y="393.60" width="1.0" height="2.2" fill="#41609a"/>
<rect x="355.80" y="393.60" width="1.0" height="2.2" fill="#41609a"/>
<rect x="373.70" y="400.20" width="1.0" height="2.2" fill="#41609a"/>
<rect x="376.00" y="400.20" width="1.0" height="2.2" fill="#41609a"/>
<rect x="392.00" y="400.20" width="1.0" height="2.2" fill="#41609a"/>
<rect x="395.80" y="400.20" width="1.0" height="2.2" fill="#41609a"/>
<rect x="407.40" y="400.20" width="1.0" height="2.2" fill="#41609a"/>
<rect x="414.10" y="400.20" width="1.0" height="2.2" fill="#41609a"/>
<rect x="416.40" y="400.20" width="1.0" height="2.2" fill="#41609a"/>
<rect x="429.90" y="400.20" width="1.0" height="2.2" fill="#41609a"/>
<rect x="443.00" y="400.20" width="1.0" height="2.2" fill="#41609a"/>
<rect x="444.90" y="400.20" width="1.0" height="2.2" fill="#41609a"/>
<rect x="449.70" y="400.20" width="1.0" height="2.2" fill="#41609a"/>
<path d="M318.30,391.30 L331.70,391.30 L331.70,406.10 L334.20,406.10 L334.20,411.10 L340.90,411.10 L340.90,421.20 L349.40,421.20 L349.40,427.10 L352.00,427.10 L352.00,432.50 L354.20,432.50 L354.20,437.60 L356.40,437.60 L356.40,442.90 L360.70,442.90 L360.70,449.00 L363.20,449.00 L363.20,456.20 L383.30,456.20 L383.30,463.50 L412.50,463.50 L412.50,474.50 L484.50,474.50" fill="none" stroke="#b92f55" stroke-width="1.1" transform="translate(0,0.1)"/>
<rect x="329.10" y="390.20" width="1.0" height="2.2" fill="#b92f55"/>
<rect x="335.70" y="410.00" width="1.0" height="2.2" fill="#b92f55"/>
<rect x="394.00" y="462.40" width="1.0" height="2.2" fill="#b92f55"/>
<rect x="483.80" y="473.40" width="1.0" height="2.2" fill="#b92f55"/>
<text x="7.30" y="546.00" font-size="11.5" text-anchor="start" font-weight="bold" fill="#000" stroke="#000" stroke-width="0.3" >G</text>
<line x1="47.80" y1="549.50" x2="47.80" y2="655.90" stroke="#111" stroke-width="1.5"/>
<line x1="47.10" y1="655.20" x2="252.00" y2="655.20" stroke="#111" stroke-width="1.5"/>
<line x1="44.80" y1="556.10" x2="47.80" y2="556.10" stroke="#222" stroke-width="1.35"/>
<text x="42.00" y="559.00" font-size="8.2" text-anchor="end" font-weight="normal" fill="#000" stroke="#000" stroke-width="0.15" >1.0</text>
<line x1="44.80" y1="574.90" x2="47.80" y2="574.90" stroke="#222" stroke-width="1.35"/>
<text x="42.00" y="577.80" font-size="8.2" text-anchor="end" font-weight="normal" fill="#000" stroke="#000" stroke-width="0.15" >0.8</text>
<line x1="44.80" y1="593.70" x2="47.80" y2="593.70" stroke="#222" stroke-width="1.35"/>
<text x="42.00" y="596.60" font-size="8.2" text-anchor="end" font-weight="normal" fill="#000" stroke="#000" stroke-width="0.15" >0.6</text>
<line x1="44.80" y1="612.50" x2="47.80" y2="612.50" stroke="#222" stroke-width="1.35"/>
<text x="42.00" y="615.40" font-size="8.2" text-anchor="end" font-weight="normal" fill="#000" stroke="#000" stroke-width="0.15" >0.4</text>
<line x1="44.80" y1="631.30" x2="47.80" y2="631.30" stroke="#222" stroke-width="1.35"/>
<text x="42.00" y="634.20" font-size="8.2" text-anchor="end" font-weight="normal" fill="#000" stroke="#000" stroke-width="0.15" >0.2</text>
<line x1="44.80" y1="650.10" x2="47.80" y2="650.10" stroke="#222" stroke-width="1.35"/>
<text x="42.00" y="653.00" font-size="8.2" text-anchor="end" font-weight="normal" fill="#000" stroke="#000" stroke-width="0.15" >0.0</text>
<line x1="57.50" y1="655.20" x2="57.50" y2="658.20" stroke="#222" stroke-width="1.35"/>
<text x="57.50" y="668.80" font-size="8.2" text-anchor="middle" font-weight="normal" fill="#000" stroke="#000" stroke-width="0.15" >0</text>
<line x1="93.35" y1="655.20" x2="93.35" y2="658.20" stroke="#222" stroke-width="1.35"/>
<text x="93.35" y="668.80" font-size="8.2" text-anchor="middle" font-weight="normal" fill="#000" stroke="#000" stroke-width="0.15" >20</text>
<line x1="129.20" y1="655.20" x2="129.20" y2="658.20" stroke="#222" stroke-width="1.35"/>
<text x="129.20" y="668.80" font-size="8.2" text-anchor="middle" font-weight="normal" fill="#000" stroke="#000" stroke-width="0.15" >40</text>
<line x1="165.05" y1="655.20" x2="165.05" y2="658.20" stroke="#222" stroke-width="1.35"/>
<text x="165.05" y="668.80" font-size="8.2" text-anchor="middle" font-weight="normal" fill="#000" stroke="#000" stroke-width="0.15" >60</text>
<line x1="200.90" y1="655.20" x2="200.90" y2="658.20" stroke="#222" stroke-width="1.35"/>
<text x="200.90" y="668.80" font-size="8.2" text-anchor="middle" font-weight="normal" fill="#000" stroke="#000" stroke-width="0.15" >80</text>
<line x1="236.75" y1="655.20" x2="236.75" y2="658.20" stroke="#222" stroke-width="1.35"/>
<text x="236.75" y="668.80" font-size="8.2" text-anchor="middle" font-weight="normal" fill="#000" stroke="#000" stroke-width="0.15" >100</text>
<text transform="translate(150.20,682.00) scale(0.064,0.1)" font-size="100" text-anchor="middle" fill="#000" stroke="#000" stroke-width="1.2">Days</text>
<text transform="translate(25.00,602.00) rotate(-90) scale(0.0672,0.105)" font-size="100" text-anchor="middle" fill="#000" stroke="#000" stroke-width="1.0">Cumulative survival</text>
<text x="135.50" y="622.00" font-size="7.8" text-anchor="start" font-weight="normal" fill="#000" stroke="#000" stroke-width="0.15" >p=0.754</text>
<path d="M58.10,555.90 L64.60,555.90 L64.60,558.50 L70.80,558.50 L70.80,561.40 L75.60,561.40 L75.60,564.00 L100.20,564.00 L100.20,567.20 L121.80,567.20 L121.80,572.50 L124.10,572.50 L124.10,578.60 L201.70,578.60" fill="none" stroke="#b92f55" stroke-width="1.1" transform="translate(0,0.1)"/>
<path d="M58.10,555.90 L61.30,555.90 L61.30,559.30 L66.50,559.30 L66.50,564.70 L68.50,564.70 L68.50,567.40 L71.50,567.40 L71.50,570.40 L88.20,570.40 L88.20,577.50 L89.60,577.50 L89.60,581.90 L91.50,581.90 L91.50,590.00 L242.50,590.00" fill="none" stroke="#41609a" stroke-width="1.1" transform="translate(0,0.1)"/>
<rect x="58.50" y="554.80" width="1.0" height="2.2" fill="#41609a"/>
<rect x="59.80" y="554.80" width="1.0" height="2.2" fill="#41609a"/>
<rect x="78.30" y="569.30" width="1.0" height="2.2" fill="#41609a"/>
<rect x="81.20" y="569.30" width="1.0" height="2.2" fill="#41609a"/>
<rect x="83.20" y="569.30" width="1.0" height="2.2" fill="#41609a"/>
<rect x="85.10" y="569.30" width="1.0" height="2.2" fill="#41609a"/>
<rect x="86.20" y="569.30" width="1.0" height="2.2" fill="#41609a"/>
<rect x="93.00" y="588.90" width="1.0" height="2.2" fill="#41609a"/>
<rect x="110.80" y="588.90" width="1.0" height="2.2" fill="#41609a"/>
<rect x="115.80" y="588.90" width="1.0" height="2.2" fill="#41609a"/>
<rect x="123.00" y="588.90" width="1.0" height="2.2" fill="#41609a"/>
<rect x="124.30" y="588.90" width="1.0" height="2.2" fill="#41609a"/>
<rect x="125.80" y="588.90" width="1.0" height="2.2" fill="#41609a"/>
<rect x="127.30" y="588.90" width="1.0" height="2.2" fill="#41609a"/>
<rect x="129.00" y="588.90" width="1.0" height="2.2" fill="#41609a"/>
<rect x="140.80" y="588.90" width="1.0" height="2.2" fill="#41609a"/>
<rect x="148.30" y="588.90" width="1.0" height="2.2" fill="#41609a"/>
<rect x="155.80" y="588.90" width="1.0" height="2.2" fill="#41609a"/>
<rect x="159.30" y="588.90" width="1.0" height="2.2" fill="#41609a"/>
<rect x="167.90" y="588.90" width="1.0" height="2.2" fill="#41609a"/>
<rect x="241.80" y="588.90" width="1.0" height="2.2" fill="#41609a"/>
<rect x="63.00" y="554.80" width="1.0" height="2.2" fill="#b92f55"/>
<rect x="78.70" y="562.90" width="1.0" height="2.2" fill="#b92f55"/>
<rect x="85.80" y="562.90" width="1.0" height="2.2" fill="#b92f55"/>
<rect x="87.20" y="562.90" width="1.0" height="2.2" fill="#b92f55"/>
<rect x="89.10" y="562.90" width="1.0" height="2.2" fill="#b92f55"/>
<rect x="98.30" y="562.90" width="1.0" height="2.2" fill="#b92f55"/>
<rect x="101.60" y="566.10" width="1.0" height="2.2" fill="#b92f55"/>
<rect x="104.00" y="566.10" width="1.0" height="2.2" fill="#b92f55"/>
<rect x="106.90" y="566.10" width="1.0" height="2.2" fill="#b92f55"/>
<rect x="108.80" y="566.10" width="1.0" height="2.2" fill="#b92f55"/>
<rect x="110.80" y="566.10" width="1.0" height="2.2" fill="#b92f55"/>
<rect x="112.70" y="566.10" width="1.0" height="2.2" fill="#b92f55"/>
<rect x="118.00" y="566.10" width="1.0" height="2.2" fill="#b92f55"/>
<rect x="133.90" y="577.50" width="1.0" height="2.2" fill="#b92f55"/>
<rect x="137.40" y="577.50" width="1.0" height="2.2" fill="#b92f55"/>
<rect x="153.90" y="577.50" width="1.0" height="2.2" fill="#b92f55"/>
<rect x="158.90" y="577.50" width="1.0" height="2.2" fill="#b92f55"/>
<rect x="178.80" y="577.50" width="1.0" height="2.2" fill="#b92f55"/>
<rect x="181.00" y="577.50" width="1.0" height="2.2" fill="#b92f55"/>
<rect x="182.90" y="577.50" width="1.0" height="2.2" fill="#b92f55"/>
<rect x="189.70" y="577.50" width="1.0" height="2.2" fill="#b92f55"/>
<rect x="195.10" y="577.50" width="1.0" height="2.2" fill="#b92f55"/>
<rect x="200.20" y="577.50" width="1.0" height="2.2" fill="#b92f55"/>
<text x="267.90" y="546.00" font-size="11.5" text-anchor="start" font-weight="bold" fill="#000" stroke="#000" stroke-width="0.3" >H</text>
<line x1="308.40" y1="549.50" x2="308.40" y2="655.90" stroke="#111" stroke-width="1.5"/>
<line x1="307.70" y1="655.20" x2="512.60" y2="655.20" stroke="#111" stroke-width="1.5"/>
<line x1="305.40" y1="556.10" x2="308.40" y2="556.10" stroke="#222" stroke-width="1.35"/>
<text x="302.60" y="559.00" font-size="8.2" text-anchor="end" font-weight="normal" fill="#000" stroke="#000" stroke-width="0.15" >1.0</text>
<line x1="305.40" y1="574.90" x2="308.40" y2="574.90" stroke="#222" stroke-width="1.35"/>
<text x="302.60" y="577.80" font-size="8.2" text-anchor="end" font-weight="normal" fill="#000" stroke="#000" stroke-width="0.15" >0.8</text>
<line x1="305.40" y1="593.70" x2="308.40" y2="593.70" stroke="#222" stroke-width="1.35"/>
<text x="302.60" y="596.60" font-size="8.2" text-anchor="end" font-weight="normal" fill="#000" stroke="#000" stroke-width="0.15" >0.6</text>
<line x1="305.40" y1="612.50" x2="308.40" y2="612.50" stroke="#222" stroke-width="1.35"/>
<text x="302.60" y="615.40" font-size="8.2" text-anchor="end" font-weight="normal" fill="#000" stroke="#000" stroke-width="0.15" >0.4</text>
<line x1="305.40" y1="631.30" x2="308.40" y2="631.30" stroke="#222" stroke-width="1.35"/>
<text x="302.60" y="634.20" font-size="8.2" text-anchor="end" font-weight="normal" fill="#000" stroke="#000" stroke-width="0.15" >0.2</text>
<line x1="305.40" y1="650.10" x2="308.40" y2="650.10" stroke="#222" stroke-width="1.35"/>
<text x="302.60" y="653.00" font-size="8.2" text-anchor="end" font-weight="normal" fill="#000" stroke="#000" stroke-width="0.15" >0.0</text>
<line x1="318.10" y1="655.20" x2="318.10" y2="658.20" stroke="#222" stroke-width="1.35"/>
<text x="318.10" y="668.80" font-size="8.2" text-anchor="middle" font-weight="normal" fill="#000" stroke="#000" stroke-width="0.15" >0</text>
<line x1="363.10" y1="655.20" x2="363.10" y2="658.20" stroke="#222" stroke-width="1.35"/>
<text x="363.10" y="668.80" font-size="8.2" text-anchor="middle" font-weight="normal" fill="#000" stroke="#000" stroke-width="0.15" >20</text>
<line x1="408.10" y1="655.20" x2="408.10" y2="658.20" stroke="#222" stroke-width="1.35"/>
<text x="408.10" y="668.80" font-size="8.2" text-anchor="middle" font-weight="normal" fill="#000" stroke="#000" stroke-width="0.15" >40</text>
<line x1="453.10" y1="655.20" x2="453.10" y2="658.20" stroke="#222" stroke-width="1.35"/>
<text x="453.10" y="668.80" font-size="8.2" text-anchor="middle" font-weight="normal" fill="#000" stroke="#000" stroke-width="0.15" >60</text>
<text transform="translate(410.80,682.00) scale(0.064,0.1)" font-size="100" text-anchor="middle" fill="#000" stroke="#000" stroke-width="1.2">Days</text>
<text transform="translate(285.60,602.00) rotate(-90) scale(0.0672,0.105)" font-size="100" text-anchor="middle" fill="#000" stroke="#000" stroke-width="1.0">Cumulative survival</text>
<text x="396.30" y="622.00" font-size="7.8" text-anchor="start" font-weight="normal" fill="#000" stroke="#000" stroke-width="0.15" >p=0.815</text>
<path d="M318.20,556.20 L324.80,556.20 L324.80,559.20 L331.60,559.20 L331.60,565.20 L333.90,565.20 L333.90,568.30 L351.90,568.30 L351.90,573.40 L356.20,573.40 L356.20,578.20 L358.50,578.20 L358.50,588.30 L383.50,588.30 L383.50,594.50 L412.50,594.50 L412.50,605.20 L482.00,605.20" fill="none" stroke="#41609a" stroke-width="1.1" transform="translate(0,0.1)"/>
<path d="M318.20,556.20 L331.70,556.20 L331.70,560.90 L340.80,560.90 L340.80,565.50 L354.20,565.50 L354.20,573.40 L361.20,573.40 L361.20,583.20 L363.20,583.20 L363.20,596.40 L414.80,596.40" fill="none" stroke="#b92f55" stroke-width="1.1" transform="translate(0,0.1)"/>
<rect x="319.00" y="555.10" width="1.0" height="2.2" fill="#41609a"/>
<rect x="320.30" y="555.10" width="1.0" height="2.2" fill="#41609a"/>
<rect x="324.10" y="555.10" width="1.0" height="2.2" fill="#41609a"/>
<rect x="336.00" y="567.20" width="1.0" height="2.2" fill="#41609a"/>
<rect x="339.90" y="567.20" width="1.0" height="2.2" fill="#41609a"/>
<rect x="341.80" y="567.20" width="1.0" height="2.2" fill="#41609a"/>
<rect x="343.70" y="567.20" width="1.0" height="2.2" fill="#41609a"/>
<rect x="345.30" y="567.20" width="1.0" height="2.2" fill="#41609a"/>
<rect x="347.20" y="567.20" width="1.0" height="2.2" fill="#41609a"/>
<rect x="376.00" y="587.20" width="1.0" height="2.2" fill="#41609a"/>
<rect x="391.70" y="593.40" width="1.0" height="2.2" fill="#41609a"/>
<rect x="395.70" y="593.40" width="1.0" height="2.2" fill="#41609a"/>
<rect x="414.20" y="604.10" width="1.0" height="2.2" fill="#41609a"/>
<rect x="416.40" y="604.10" width="1.0" height="2.2" fill="#41609a"/>
<rect x="418.20" y="604.10" width="1.0" height="2.2" fill="#41609a"/>
<rect x="445.70" y="604.10" width="1.0" height="2.2" fill="#41609a"/>
<rect x="481.30" y="604.10" width="1.0" height="2.2" fill="#41609a"/>
<rect x="322.50" y="555.10" width="1.0" height="2.2" fill="#b92f55"/>
<rect x="329.00" y="555.10" width="1.0" height="2.2" fill="#b92f55"/>
<rect x="342.60" y="564.40" width="1.0" height="2.2" fill="#b92f55"/>
<rect x="344.90" y="564.40" width="1.0" height="2.2" fill="#b92f55"/>
<rect x="347.20" y="564.40" width="1.0" height="2.2" fill="#b92f55"/>
<rect x="373.90" y="595.30" width="1.0" height="2.2" fill="#b92f55"/>
<rect x="391.40" y="595.30" width="1.0" height="2.2" fill="#b92f55"/>
<rect x="394.20" y="595.30" width="1.0" height="2.2" fill="#b92f55"/>
<rect x="414.10" y="595.30" width="1.0" height="2.2" fill="#b92f55"/>
</svg>
</body></html>
